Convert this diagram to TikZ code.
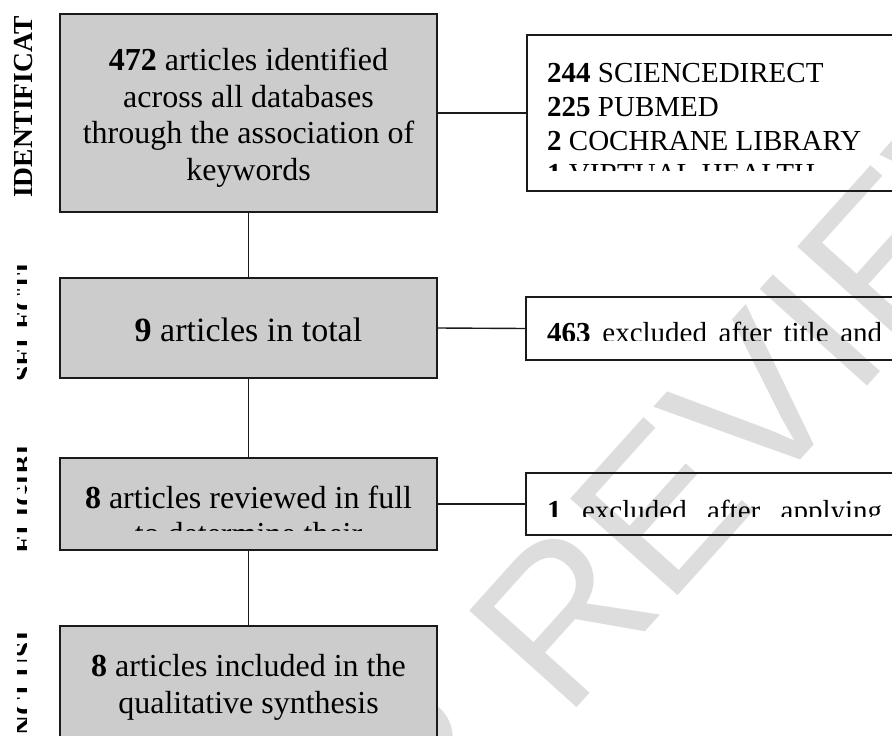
\documentclass[tikz,border=0pt]{standalone}
\usepackage{fontspec}
\setmainfont{Liberation Serif}
\newfontfamily\wmfont{Liberation Sans}
\usetikzlibrary{calc}
\definecolor{boxgray}{HTML}{CCCCCC}
\definecolor{wmgray}{HTML}{DDDDDD}
\definecolor{edgecol}{HTML}{1A1A1A}
\begin{document}
\begin{tikzpicture}[x=1pt,y=-1pt,
  graybox/.style={draw=edgecol, line width=1.8pt, fill=boxgray, inner sep=0pt, minimum width=377pt},
  whitebox/.style={draw=edgecol, line width=1.8pt, inner sep=0pt, minimum width=384pt},
  link/.style={draw=edgecol, line width=1.4pt},
  gtext/.style={inner sep=0pt, font=\fontsize{32}{36.7}\selectfont, anchor=base},
  rtext/.style={inner sep=0pt, font=\fontsize{29}{33.7}\selectfont, anchor=base west},
  side/.style={inner sep=0pt, font=\fontsize{27.5}{30}\selectfont\bfseries, rotate=90, anchor=base west},
  wm/.style={inner sep=0pt, font=\wmfont\fontsize{210}{210}\selectfont, text=wmgray, rotate=48},
]
\useasboundingbox (0,0) rectangle (892,736);
\clip (0,0) rectangle (892,736);
\fill[white] (0,0) rectangle (892,736);

% watermark
\coordinate (wmo) at (565,721);
\node[wm, anchor=base west] (wm2) at (wmo) {REVIEW};
\node[wm, anchor=base east] (wm1) at ($(wmo)+(-39,43.4)$) {FOR PEER};

% boxes
\node[graybox, minimum height=198pt] (b1) at (248.5,113) {};
\node[graybox, minimum height=100pt] (b2) at (248.5,328) {};
\node[graybox, minimum height=92pt] (b3) at (248.5,504) {};
\node[graybox, minimum height=150pt] (b4) at (248.5,701) {};

\node[whitebox, minimum height=156pt] (r1) at (719,113) {};
\node[whitebox, minimum height=63pt] (r2) at (718,328.5) {};
\node[whitebox, minimum height=62pt] (r3) at (718,504) {};

% connectors
\draw[link] (b1.east) -- (r1.west);
\draw[link] (b2.east) -- (r2.west);
\draw[link] (b3.east) -- (r3.west);
\draw[link] (b1.south) -- (b2.north);
\draw[link] (b2.south) -- (b3.north);
\draw[link] (b3.south) -- (b4.north);

% gray box texts
\node[gtext] (t1a) at (248.5,70) {\textbf{472} articles identified};
\node[gtext] (t1b) at (248.5,107) {across all databases};
\node[gtext] (t1c) at (248.5,143.5) {through the association of};
\node[gtext] (t1d) at (248.5,180) {keywords};
\node[gtext, font=\fontsize{34}{38}\selectfont] (t2a) at (248.5,341) {\textbf{9} articles in total};
\begin{scope}
\clip (60,458) rectangle (437,530);
\node[gtext] (t3a) at (248.5,508) {\textbf{8} articles reviewed in full};
\node[gtext] (t3b) at (248.5,544.7) {to determine their};
\end{scope}
\node[gtext] (t4a) at (248.5,676) {\textbf{8} articles included in the};
\node[gtext] (t4b) at (248.5,713) {qualitative synthesis};

% right box texts
\node[rtext] (s1a) at (547,82.7) {\textbf{244} SCIENCEDIRECT};
\node[rtext] (s1b) at (547,116.4) {\textbf{225} PUBMED};
\node[rtext] (s1c) at (547,150) {\textbf{2} COCHRANE LIBRARY};
\begin{scope}
\clip (527,150) rectangle (892,170);
\node[rtext] (s1d) at (547,183.5) {\textbf{1} VIRTUAL HEALTH};
\end{scope}
\begin{scope}
\clip (527,297) rectangle (892,340);
\node[rtext] (s2a) at (547,342) {\makebox[335pt][s]{\textbf{463} excluded after title and}};
\end{scope}
\begin{scope}
\clip (527,473) rectangle (892,516);
\node[rtext] (s3a) at (547,520) {\makebox[335pt][s]{\textbf{1} excluded after applying}};
\end{scope}

% side labels
\node[side] (l1) at (32,198) {IDENTIFICAT};
\begin{scope}
\clip (17,0) rectangle (26,736);
\node[side] (l2) at (33,382) {SELECTI};
\node[side] (l3) at (33,554) {ELIGIBI};
\node[side] (l4) at (33,746) {INCLUSI};
\end{scope}
\end{tikzpicture}
\end{document}
